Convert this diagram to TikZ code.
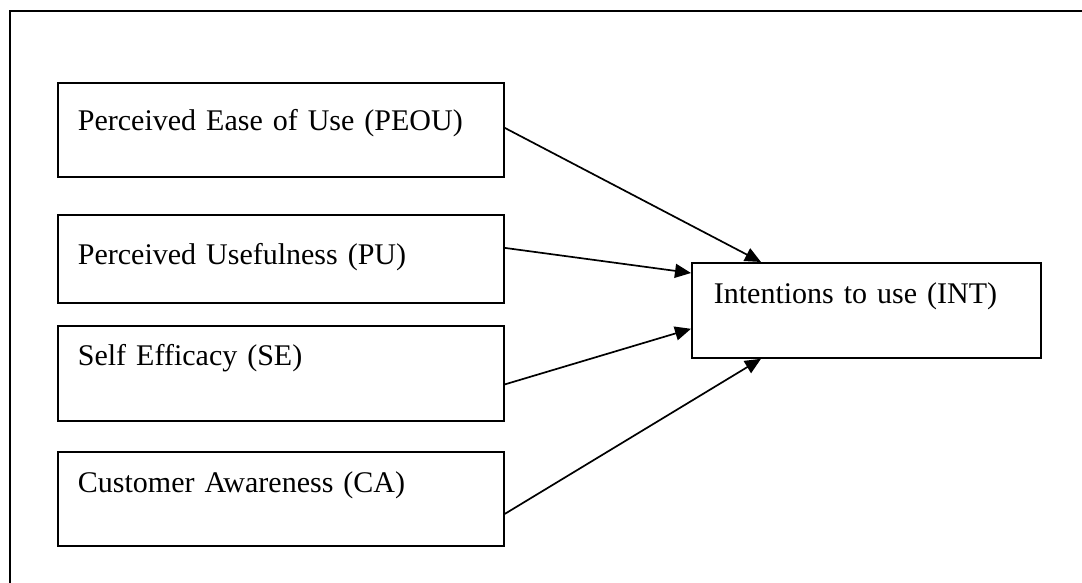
\documentclass[tikz,border=0pt]{standalone}
\usepackage{fontspec}
\setmainfont{Liberation Serif}
\usetikzlibrary{arrows.meta}
\tikzset{
  frame-line/.style={
    line width=1pt,
    line cap=rect
  },
  factor/.style={
    rectangle,
    draw=black,
    line width=0.9pt,
    anchor=north west,
    align=left,
    inner xsep=10pt,
    inner ysep=0pt,
    font=\fontsize{15}{18}\selectfont
  },
  factor-wide/.style={factor, text width=203pt},
  factor-out/.style={factor, inner xsep=11pt, text width=152.5pt},
  link/.style={
    -{Triangle[length=8pt,width=7pt]},
    line width=0.85pt
  }
}

\begin{document}
\begin{tikzpicture}[x=0.5pt, y=-0.5pt]
  \useasboundingbox (0,0) rectangle (1082,583);

  % Outer frame (open at right and bottom)
  \draw[frame-line] (1082,11) -- (10,11) -- (10,583);

  % Predictors
  \node[factor-wide, text height=24pt, text depth=23pt] (peou) at (57,82) {Perceived Ease of Use (PEOU)};
  \node[factor-wide, text height=25pt, text depth=19pt] (pu) at (57,214) {Perceived Usefulness (PU)};
  \node[factor-wide, text height=20pt, text depth=27.5pt] (se) at (57,325) {Self Efficacy (SE)};
  \node[factor-wide, text height=20.5pt, text depth=26.5pt] (ca) at (57,451) {Customer Awareness (CA)};

  % Outcome
  \node[factor-out, text height=20.5pt, text depth=27pt] (int) at (691,262) {Intentions to use (INT)};

  % Paths into INT
  \draw[link] ([yshift=1pt]peou.east) -- ([xshift=35pt]int.north west);
  \draw[link] ([yshift=5.5pt]pu.east) -- ([yshift=-5.5pt]int.north west);
  \draw[link] ([yshift=-5.5pt]se.east) -- ([yshift=15pt]int.south west);
  \draw[link] ([yshift=-7.5pt]ca.east) -- ([xshift=35pt]int.south west);
\end{tikzpicture}
\end{document}
